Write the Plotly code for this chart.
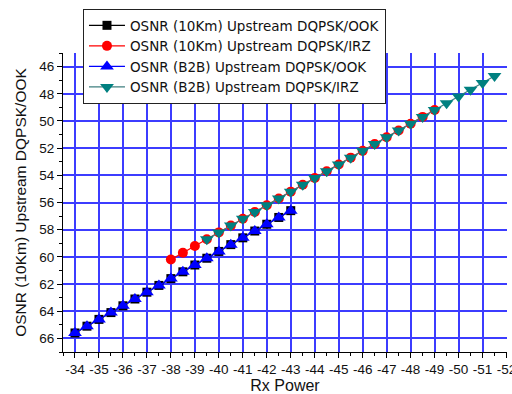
import plotly.graph_objects as go

# Rx power sweep points (dBm)
rx_ook = [-34, -34.5, -35, -35.5, -36, -36.5, -37, -37.5, -38, -38.5, -39, -39.5,
          -40, -40.5, -41, -41.5, -42, -42.5, -43]
osnr_10km_ook = [65.6, 65.1, 64.6, 64.1, 63.6, 63.1, 62.6, 62.1, 61.6, 61.1, 60.6, 60.1,
                 59.6, 59.1, 58.6, 58.1, 57.6, 57.1, 56.6]
osnr_b2b_ook = [65.6, 65.1, 64.6, 64.1, 63.6, 63.1, 62.6, 62.1, 61.6, 61.1, 60.6, 60.1,
                59.6, 59.1, 58.6, 58.1, 57.6, 57.1, 56.6]

rx_10km_irz = [-38, -38.5, -39, -39.5, -40, -40.5, -41, -41.5, -42, -42.5, -43, -43.5,
               -44, -44.5, -45, -45.5, -46, -46.5, -47, -47.5, -48, -48.5, -49]
osnr_10km_irz = [60.2, 59.7, 59.2, 58.7, 58.2, 57.7, 57.2, 56.7, 56.2, 55.7, 55.2, 54.7,
                 54.2, 53.7, 53.2, 52.7, 52.2, 51.7, 51.2, 50.7, 50.2, 49.7, 49.2]

rx_b2b_irz = [-39.5, -40, -40.5, -41, -41.5, -42, -42.5, -43, -43.5, -44, -44.5, -45,
              -45.5, -46, -46.5, -47, -47.5, -48, -48.5, -49, -49.5, -50, -50.5, -51, -51.5]
osnr_b2b_irz = [58.7, 58.2, 57.7, 57.2, 56.7, 56.2, 55.7, 55.2, 54.7, 54.2, 53.7, 53.2,
                52.7, 52.2, 51.7, 51.2, 50.7, 50.2, 49.7, 49.2, 48.7, 48.2, 47.7, 47.2, 46.7]

x_ticks = list(range(-34, -53, -1))
x_labels = ["-%d" % abs(v) for v in x_ticks]
y_ticks = list(range(46, 67, 2))

FONT = "Liberation Sans, Arial, sans-serif"
GRID = "#3c3cff"

fig = go.Figure()
fig.add_trace(go.Scatter(
    x=rx_ook, y=osnr_10km_ook, mode="lines+markers",
    name="OSNR (10Km) Upstream DQPSK/OOK",
    line=dict(color="black", width=1.2),
    marker=dict(symbol="square", size=9, color="black")))
fig.add_trace(go.Scatter(
    x=rx_10km_irz, y=osnr_10km_irz, mode="lines+markers",
    name="OSNR (10Km) Upstream DQPSK/IRZ",
    line=dict(color="red", width=1.2),
    marker=dict(symbol="circle", size=10, color="red")))
fig.add_trace(go.Scatter(
    x=rx_ook, y=osnr_b2b_ook, mode="lines+markers",
    name="OSNR (B2B) Upstream DQPSK/OOK",
    line=dict(color="blue", width=1.2),
    marker=dict(symbol="triangle-up", size=12, color="blue")))
fig.add_trace(go.Scatter(
    x=rx_b2b_irz, y=osnr_b2b_irz, mode="lines+markers",
    name="OSNR (B2B) Upstream DQPSK/IRZ",
    line=dict(color="#3f7f7f", width=1.2),
    marker=dict(symbol="triangle-down", size=12, color="#008080")))

fig.update_layout(
    width=512, height=394,
    margin=dict(l=63, r=5, t=53, b=42),
    paper_bgcolor="white", plot_bgcolor="white",
    font=dict(family=FONT, size=13, color="#111"),
    showlegend=True,
    legend=dict(
        x=0.045, y=1.147, xanchor="left", yanchor="top",
        bgcolor="white", bordercolor="#222", borderwidth=1,
        font=dict(family="DejaVu Sans, sans-serif", size=13.5, color="#111"),
        tracegroupgap=0, itemwidth=36),
    xaxis=dict(
        range=[-33.5, -52.02], tickvals=x_ticks, ticktext=x_labels,
        tickangle=0, automargin=False, ticklabeloverflow="allow",
        ticks="outside", ticklen=5, tickcolor="black", tickwidth=1,
        minor=dict(dtick=0.5, ticks="outside", ticklen=3, tickcolor="black", showgrid=False),
        showline=True, linecolor="black", linewidth=1,
        showgrid=True, gridcolor=GRID, gridwidth=1.5, zeroline=False,
        tickfont=dict(size=13.5),
        title=dict(text="Rx Power", font=dict(size=16), standoff=5)),
    yaxis=dict(
        range=[67, 45], tickvals=y_ticks, automargin=False,
        ticks="outside", ticklen=5, tickcolor="black", tickwidth=1,
        minor=dict(dtick=1, tick0=45, ticks="outside", ticklen=3, tickcolor="black", showgrid=False),
        showline=True, linecolor="black", linewidth=1,
        showgrid=True, gridcolor=GRID, gridwidth=1.5, zeroline=False,
        tickfont=dict(size=13.5),
        title=dict(text="OSNR (10Km) Upstream DQPSK/OOK", font=dict(size=15.5), standoff=8)),
)

fig.write_html("out.html")
